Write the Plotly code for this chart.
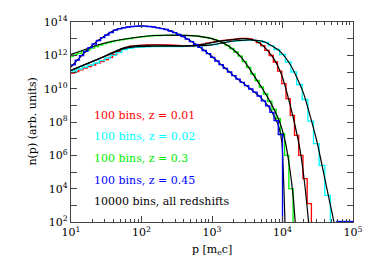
import numpy as np
import plotly.graph_objects as go

# ---------------- data (log10 values) ----------------
# 100-bin histograms: first bin edge, bin width (dex) and log10 n per bin
red_start, red_width = 0.99, 0.06
red_hist = [10.93, 11.03, 11.13, 11.23, 11.32, 11.42, 11.52, 11.63, 11.75, 11.88,
            12.05, 12.22, 12.40, 12.48, 12.55, 12.57, 12.60, 12.61, 12.62, 12.63,
            12.63, 12.63, 12.62, 12.62, 12.61, 12.59, 12.58, 12.57, 12.58, 12.61,
            12.64, 12.67, 12.73, 12.78, 12.83, 12.86, 12.89, 12.92, 12.95, 12.98,
            13.01, 13.01, 12.98, 12.90, 12.76, 12.58, 12.30, 11.99, 11.60, 11.05,
            10.30, 9.40, 8.40, 7.20, 6.00, 4.60, 3.10]

cyan_start, cyan_width = 1.00, 0.08
cyan_hist = [11.06, 11.18, 11.30, 11.42, 11.54, 11.68, 11.84, 12.00, 12.17, 12.34,
             12.42, 12.48, 12.49, 12.51, 12.53, 12.53, 12.53, 12.53, 12.53, 12.53,
             12.54, 12.55, 12.57, 12.59, 12.61, 12.65, 12.72, 12.79, 12.84, 12.87,
             12.89, 12.92, 12.90, 12.86, 12.78, 12.58, 12.35, 12.05, 11.60, 11.00,
             10.25, 9.35, 8.05, 6.70, 5.40, 3.60]

green_start, green_width = 0.97, 0.06
green_hist = [11.93, 12.03, 12.12, 12.22, 12.32, 12.43, 12.53, 12.62, 12.70, 12.77,
              12.83, 12.88, 12.93, 12.97, 13.01, 13.05, 13.08, 13.11, 13.14, 13.17,
              13.19, 13.19, 13.20, 13.20, 13.20, 13.20, 13.20, 13.20, 13.18, 13.17,
              13.15, 13.11, 13.07, 13.02, 12.94, 12.85, 12.73, 12.59, 12.41, 12.20,
              11.95, 11.62, 11.27, 10.88, 10.49, 10.10, 9.68, 9.24, 8.75, 8.20,
              7.30, 6.00, 4.00]

blue_start, blue_width = 1.00, 0.06
blue_hist = [11.43, 11.71, 11.98, 12.24, 12.46, 12.68, 12.89, 13.06, 13.22, 13.37,
             13.51, 13.59, 13.65, 13.70, 13.73, 13.75, 13.76, 13.75, 13.73, 13.70,
             13.65, 13.60, 13.55, 13.46, 13.36, 13.25, 13.13, 12.97, 12.82, 12.66,
             12.48, 12.29, 12.10, 11.88, 11.66, 11.44, 11.22, 11.00, 10.78, 10.57,
             10.38, 10.18, 9.98, 9.79, 9.56, 9.27, 8.97, 8.58, 8.08, 7.25]

# 10000-bin curves (log10 p, log10 n)
blk_red_x = [1.0, 1.4, 1.6, 1.75, 1.9, 2.2, 2.65, 2.85, 3.07, 3.26, 3.44, 3.55, 3.63,
             3.73, 3.87, 3.99, 4.06, 4.15, 4.25, 4.32, 4.37]
blk_red_y = [11.1, 11.8, 12.2, 12.45, 12.57, 12.62, 12.56, 12.64, 12.82, 12.93, 13.0,
             12.96, 12.85, 12.55, 11.85, 10.8, 9.8, 8.3, 6.3, 4.1, 2.0]

blk_cyan_x = [1.0, 1.4, 1.6, 1.75, 1.9, 2.2, 2.6, 3.0, 3.26, 3.54, 3.73, 3.96, 4.11,
              4.2, 4.30, 4.39, 4.49, 4.6, 4.68, 4.73]
blk_cyan_y = [11.1, 11.8, 12.15, 12.4, 12.5, 12.55, 12.55, 12.63, 12.83, 12.92, 12.83,
              12.25, 11.45, 10.7, 9.7, 8.4, 6.8, 4.6, 3.0, 2.0]

blk_green_x = [1.0, 1.2, 1.4, 1.6, 1.86, 2.2, 2.6, 2.8, 2.97, 3.1, 3.2, 3.3, 3.4, 3.5,
               3.6, 3.7, 3.8, 3.87, 3.96, 4.04, 4.1, 4.15, 4.18]
blk_green_y = [12.05, 12.35, 12.65, 12.86, 13.04, 13.19, 13.2, 13.15, 13.03, 12.85,
               12.65, 12.35, 11.95, 11.4, 10.75, 10.1, 9.4, 8.85, 8.0, 6.8, 5.3, 3.6, 2.0]

blk_blue_x = [1.0, 1.2, 1.4, 1.64, 1.87, 2.0, 2.12, 2.36, 2.59, 2.78, 2.97, 3.16, 3.35,
              3.5, 3.68, 3.82, 3.94, 3.99, 4.0, 4.02, 4.035]
blk_blue_y = [11.3, 12.2, 12.93, 13.54, 13.73, 13.76, 13.73, 13.54, 13.13, 12.63, 12.03,
              11.33, 10.63, 10.15, 9.52, 8.82, 7.81, 6.8, 6.2, 4.0, 2.0]

labels = ["100 bins, z = 0.01", "100 bins, z = 0.02", "100 bins, z = 0.3",
          "100 bins, z = 0.45", "10000 bins, all redshifts"]

x_major = [1, 2, 3, 4, 5]
y_major = [2, 4, 6, 8, 10, 12, 14]

# ---------------- figure ----------------
RED, CYAN, GREEN, BLUE = "#ff0000", "#00ffff", "#00ee00", "#0000ff"
FLOOR = 1.0  # log10 value below the axis range used to close histograms


def hist_xy(start, width, vals):
    edges = start + width * np.arange(len(vals) + 1)
    xs = list(10 ** edges)
    ys = list(10 ** np.array(vals)) + [10 ** FLOOR]
    return xs, ys


fig = go.Figure()

for (st, w, v, c) in [(red_start, red_width, red_hist, RED),
                      (cyan_start, cyan_width, cyan_hist, CYAN),
                      (green_start, green_width, green_hist, GREEN)]:
    xs, ys = hist_xy(st, w, v)
    fig.add_trace(go.Scatter(x=xs, y=ys, mode="lines", line=dict(color=c, width=1.3, shape="hv"),
                             showlegend=False, hoverinfo="skip"))

for bx, by in [(blk_red_x, blk_red_y), (blk_cyan_x, blk_cyan_y),
               (blk_green_x, blk_green_y), (blk_blue_x, blk_blue_y)]:
    fig.add_trace(go.Scatter(x=10 ** np.array(bx), y=10 ** np.array(by), mode="lines",
                             line=dict(color="black", width=1.2, shape="spline", smoothing=0.6),
                             showlegend=False, hoverinfo="skip"))

xs, ys = hist_xy(blue_start, blue_width, blue_hist)
fig.add_trace(go.Scatter(x=xs, y=ys, mode="lines", line=dict(color=BLUE, width=1.3, shape="hv"),
                         showlegend=False, hoverinfo="skip"))
# blue empty bins lying on the floor near 1e5
fig.add_trace(go.Scatter(x=[10 ** 4.76, 10 ** 5], y=[10 ** 2.03, 10 ** 2.03], mode="lines",
                         line=dict(color=BLUE, width=1.4), showlegend=False, hoverinfo="skip"))

FONT = "DejaVu Serif"
label_colors = [RED, CYAN, GREEN, BLUE, "black"]
label_y = [0.535, 0.43, 0.32, 0.21, 0.105]
for t, c, yy in zip(labels, label_colors, label_y):
    fig.add_annotation(text=t, x=0.074, y=yy, xref="paper", yref="paper", xanchor="left",
                       yanchor="middle", showarrow=False, font=dict(family=FONT, size=11, color=c))

fig.add_annotation(text="n(p) (arb. units)", x=-0.14, y=0.5, xref="paper", yref="paper",
                   textangle=-90, showarrow=False, xanchor="center", yanchor="middle",
                   font=dict(family=FONT, size=11, color="black"))
fig.add_annotation(text="p [m<sub>e</sub>c]", x=0.5, y=-0.14, xref="paper", yref="paper",
                   showarrow=False, xanchor="center", yanchor="middle",
                   font=dict(family=FONT, size=11, color="black"))

AX = "#444444"
x_minor = [m * 10 ** d for d in range(1, 5) for m in range(2, 10)]
y_minor = [10 ** (e + 1) for e in y_major[:-1]]

fig.update_xaxes(type="log", range=[1, 5], showgrid=False, zeroline=False,
                 tickvals=[10 ** e for e in x_major],
                 ticktext=["10<sup>%d</sup>" % e for e in x_major],
                 ticks="inside", ticklen=6, tickcolor=AX, tickwidth=1,
                 minor=dict(tickvals=x_minor, ticks="inside", ticklen=3, tickcolor=AX, showgrid=False),
                 showline=True, linecolor=AX, linewidth=1.3, mirror="allticks",
                 tickfont=dict(family=FONT, size=11, color="black"))
fig.update_yaxes(type="log", range=[2, 14], showgrid=False, zeroline=False,
                 tickvals=[10 ** e for e in y_major],
                 ticktext=["10<sup>%d</sup>" % e for e in y_major],
                 ticks="inside", ticklen=6, tickcolor=AX, tickwidth=1,
                 minor=dict(tickvals=y_minor, ticks="inside", ticklen=6, tickcolor=AX, showgrid=False),
                 showline=True, linecolor=AX, linewidth=1.3, mirror="allticks",
                 tickfont=dict(family=FONT, size=11, color="black"))

fig.update_layout(width=374, height=267, margin=dict(l=71, r=21, t=22, b=45),
                  paper_bgcolor="white", plot_bgcolor="white", showlegend=False,
                  font=dict(family=FONT, color="black"))

fig.write_html("out.html", config={"displayModeBar": False},
               post_script="document.body.style.margin='0';")
